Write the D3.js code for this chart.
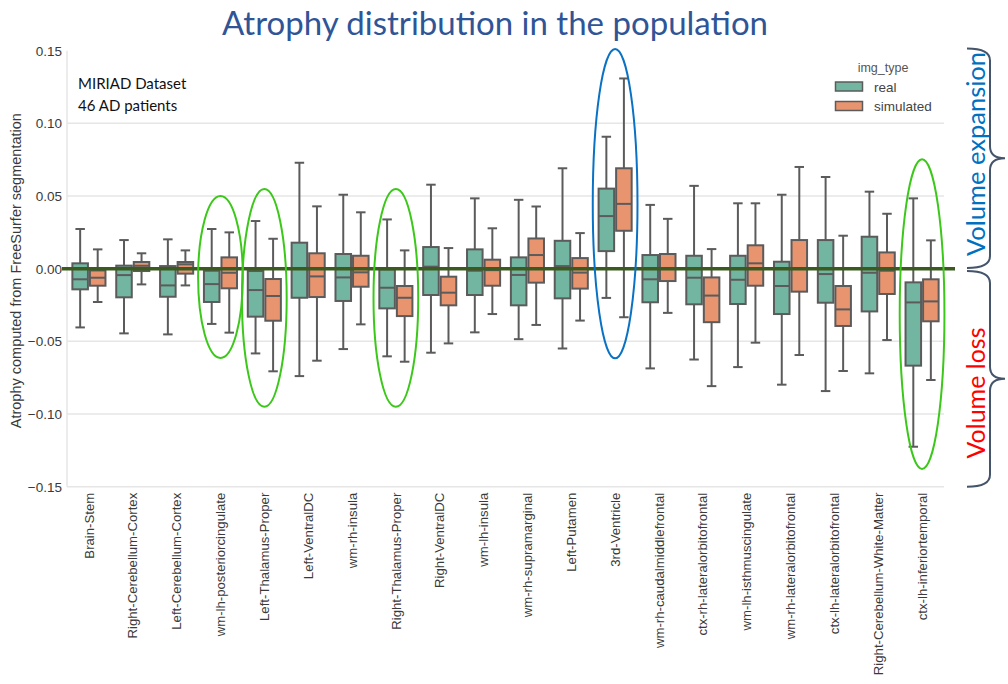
<!DOCTYPE html>
<html>
<head>
<meta charset="utf-8">
<script src="https://cdn.jsdelivr.net/npm/d3@7"></script>
<style>
  html, body { margin: 0; padding: 0; background: #fff; }
  svg { display: block; }
</style>
</head>
<body>
<svg id="chart" width="1008" height="684"></svg>
<script>
// Brain regions, in plotting order
const categories = [
  "Brain-Stem", "Right-Cerebellum-Cortex", "Left-Cerebellum-Cortex",
  "wm-lh-posteriorcingulate", "Left-Thalamus-Proper", "Left-VentralDC",
  "wm-rh-insula", "Right-Thalamus-Proper", "Right-VentralDC", "wm-lh-insula",
  "wm-rh-supramarginal", "Left-Putamen", "3rd-Ventricle",
  "wm-rh-caudalmiddlefrontal", "ctx-rh-lateralorbitofrontal",
  "wm-lh-isthmuscingulate", "wm-rh-lateralorbitofrontal",
  "ctx-lh-lateralorbitofrontal", "Right-Cerebellum-White-Matter",
  "ctx-lh-inferiortemporal"
];

const imgTypes = ["real", "simulated"];

// Box statistics for the real images: lower whisker, Q1, median, Q3, upper whisker
const realLow  = [-0.0404,-0.0445,-0.0452,-0.0380,-0.0583,-0.0739,-0.0553,-0.0603,-0.0578,-0.0438,-0.0485,-0.0549,-0.0201,-0.0686,-0.0625,-0.0677,-0.0798,-0.0842,-0.0720,-0.1225];
const realQ1   = [-0.0142,-0.0197,-0.0193,-0.0229,-0.0330,-0.0200,-0.0222,-0.0273,-0.0181,-0.0181,-0.0252,-0.0204, 0.0121,-0.0231,-0.0245,-0.0243,-0.0312,-0.0234,-0.0294,-0.0667];
const realMed  = [-0.0073,-0.0044,-0.0115,-0.0106,-0.0147, 0.0003,-0.0060,-0.0131, 0.0014,-0.0014,-0.0043, 0.0018, 0.0362,-0.0073,-0.0062,-0.0076,-0.0119,-0.0037,-0.0028,-0.0232];
const realQ3   = [ 0.0037, 0.0021, 0.0018,-0.0014,-0.0016, 0.0179, 0.0101,-0.0005, 0.0149, 0.0133, 0.0078, 0.0192, 0.0551, 0.0094, 0.0089, 0.0089, 0.0048, 0.0197, 0.0220,-0.0094];
const realHigh = [ 0.0273, 0.0197, 0.0202, 0.0273, 0.0328, 0.0729, 0.0509, 0.0339, 0.0578, 0.0484, 0.0474, 0.0691, 0.0908, 0.0439, 0.0570, 0.0450, 0.0509, 0.0631, 0.0530, 0.0484];

// Box statistics for the simulated images
const simLow  = [-0.0229,-0.0108,-0.0115,-0.0440,-0.0706,-0.0633,-0.0383,-0.0640,-0.0514,-0.0312,-0.0387,-0.0357,-0.0334,-0.0304,-0.0808,-0.0509,-0.0594,-0.0704,-0.0491,-0.0766];
const simQ1   = [-0.0117,-0.0016,-0.0034,-0.0135,-0.0358,-0.0195,-0.0124,-0.0326,-0.0252,-0.0117,-0.0096,-0.0137, 0.0261,-0.0085,-0.0368,-0.0117,-0.0158,-0.0394,-0.0174,-0.0362];
const simMed  = [-0.0062, 0.0020, 0.0030,-0.0028,-0.0188,-0.0053,-0.0025,-0.0200,-0.0165,-0.0010, 0.0094,-0.0027, 0.0446, 0.0002,-0.0185, 0.0037, 0.0002,-0.0280,-0.0014,-0.0225];
const simQ3   = [-0.0012, 0.0046, 0.0046, 0.0078,-0.0071, 0.0106, 0.0089,-0.0119,-0.0055, 0.0062, 0.0208, 0.0073, 0.0691, 0.0101,-0.0060, 0.0161, 0.0197,-0.0119, 0.0112,-0.0073];
const simHigh = [ 0.0133, 0.0106, 0.0126, 0.0250, 0.0206, 0.0429, 0.0388, 0.0126, 0.0142, 0.0278, 0.0428, 0.0245, 0.1309, 0.0343, 0.0135, 0.0450, 0.0700, 0.0227, 0.0378, 0.0195];

const yTicks = [-0.15, -0.10, -0.05, 0.00, 0.05, 0.10, 0.15];

// Highlighted regions: category, value extent of the ring, ring colour
const highlightCats   = ["wm-lh-posteriorcingulate", "Left-Thalamus-Proper", "Right-Thalamus-Proper", "3rd-Ventricle", "ctx-lh-inferiortemporal"];
const highlightTop    = [0.050, 0.0548, 0.0548, 0.1512, 0.0753];
const highlightBottom = [-0.0614, -0.0950, -0.0950, -0.0617, -0.1378];
const highlightColor  = ["#3cc81a", "#3cc81a", "#3cc81a", "#0a72c4", "#3cc81a"];

const colors = { real: "#72b6a1", simulated: "#e8956f" };
const edge = "#5b5b5b";

const svg = d3.select("#chart");
const plotLeft = 67, plotRight = 944, plotTop = 50.7, plotBottom = 486.7;

const x = d3.scaleBand().domain(categories).range([plotLeft, plotRight]).padding(0);
const y = d3.scaleLinear().domain([-0.15, 0.15]).range([plotBottom, plotTop]);
const sub = d3.scaleBand().domain(imgTypes).range([0, x.bandwidth() * 0.8]);

svg.append("rect").attr("width", 1008).attr("height", 684).attr("fill", "#fff");

// Grid
const grid = svg.append("g");
grid.selectAll("line").data(yTicks.filter(t => t < 0.149))
  .join("line")
  .attr("x1", plotLeft).attr("x2", plotRight)
  .attr("y1", d => y(d)).attr("y2", d => y(d))
  .attr("stroke", "#e6e6e6").attr("stroke-width", 1.5);
grid.append("line").attr("x1", plotLeft).attr("x2", plotLeft)
  .attr("y1", plotTop).attr("y2", plotBottom)
  .attr("stroke", "#e6e6e6").attr("stroke-width", 1.5);

// Y axis labels
const yAxis = d3.axisLeft(y).tickValues(yTicks).tickSize(0).tickPadding(5)
  .tickFormat(d => d3.format(".2f")(d).replace("-", "\u2212"));
const yg = svg.append("g").attr("transform", `translate(${plotLeft},0)`).call(yAxis);
yg.select(".domain").remove();
yg.selectAll("text").attr("font-family", "Liberation Sans, Arial, sans-serif")
  .attr("font-size", 13.5).attr("fill", "#3a3a3a");

// X axis labels
const xAxis = d3.axisBottom(x).tickSize(0).tickPadding(0);
const xg = svg.append("g").attr("transform", `translate(0,${plotBottom})`).call(xAxis);
xg.select(".domain").remove();
xg.selectAll("text")
  .attr("font-family", "Liberation Sans, Arial, sans-serif")
  .attr("font-size", 13.2).attr("fill", "#3a3a3a")
  .attr("text-anchor", "end")
  .attr("dy", "0.35em")
  .attr("transform", "translate(0,6) rotate(-90)")
  .attr("x", 0).attr("y", 0);

// Y axis title
svg.append("text")
  .attr("transform", `translate(21,${(plotTop + plotBottom) / 2 + 2}) rotate(-90)`)
  .attr("text-anchor", "middle")
  .attr("font-family", "Liberation Sans, Arial, sans-serif")
  .attr("font-size", 14.5).attr("fill", "#3a3a3a")
  .text("Atrophy computed from FreeSurfer segmentation");

// Boxes
const stats = {
  real: categories.map((c, i) => ({ c, low: realLow[i], q1: realQ1[i], med: realMed[i], q3: realQ3[i], high: realHigh[i] })),
  simulated: categories.map((c, i) => ({ c, low: simLow[i], q1: simQ1[i], med: simMed[i], q3: simQ3[i], high: simHigh[i] }))
};

const boxW = sub.bandwidth();
const capHalf = boxW * 0.27;
imgTypes.forEach(t => {
  const g = svg.append("g");
  const xc = d => x(d.c) + x.bandwidth() * 0.1 + sub(t) + boxW / 2;
  const grp = g.selectAll("g").data(stats[t]).join("g");
  grp.append("line").attr("x1", xc).attr("x2", xc)
    .attr("y1", d => y(d.high)).attr("y2", d => y(d.q3))
    .attr("stroke", edge).attr("stroke-width", 2);
  grp.append("line").attr("x1", xc).attr("x2", xc)
    .attr("y1", d => y(d.q1)).attr("y2", d => y(d.low))
    .attr("stroke", edge).attr("stroke-width", 2);
  grp.append("line").attr("x1", d => xc(d) - capHalf).attr("x2", d => xc(d) + capHalf)
    .attr("y1", d => y(d.high)).attr("y2", d => y(d.high))
    .attr("stroke", edge).attr("stroke-width", 2);
  grp.append("line").attr("x1", d => xc(d) - capHalf).attr("x2", d => xc(d) + capHalf)
    .attr("y1", d => y(d.low)).attr("y2", d => y(d.low))
    .attr("stroke", edge).attr("stroke-width", 2);
  grp.append("rect")
    .attr("x", d => xc(d) - boxW / 2 + 1).attr("width", boxW - 2)
    .attr("y", d => y(d.q3)).attr("height", d => y(d.q1) - y(d.q3))
    .attr("fill", colors[t]).attr("stroke", edge).attr("stroke-width", 2);
  grp.append("line").attr("x1", d => xc(d) - boxW / 2 + 1).attr("x2", d => xc(d) + boxW / 2 - 1)
    .attr("y1", d => y(d.med)).attr("y2", d => y(d.med))
    .attr("stroke", edge).attr("stroke-width", 2);
});

// Zero reference line
svg.append("line")
  .attr("x1", plotLeft - 5).attr("x2", plotRight + 11)
  .attr("y1", y(0)).attr("y2", y(0))
  .attr("stroke", "#3b5a20").attr("stroke-width", 3.5);

// Highlight rings
svg.append("g").selectAll("ellipse").data(highlightCats)
  .join("ellipse")
  .attr("cx", d => x(d) + x.bandwidth() / 2)
  .attr("cy", (d, i) => (y(highlightTop[i]) + y(highlightBottom[i])) / 2)
  .attr("rx", x.bandwidth() * 0.51)
  .attr("ry", (d, i) => (y(highlightBottom[i]) - y(highlightTop[i])) / 2)
  .attr("fill", "none")
  .attr("stroke", (d, i) => highlightColor[i])
  .attr("stroke-width", 2);

// Legend
const lg = svg.append("g").attr("font-family", "Liberation Sans, Arial, sans-serif");
lg.append("text").attr("x", 883).attr("y", 72).attr("text-anchor", "middle")
  .attr("font-size", 12.5).attr("fill", "#555").text("img_type");
imgTypes.forEach((t, i) => {
  lg.append("rect").attr("x", 835.5).attr("y", 82 + i * 19.5).attr("width", 27).attr("height", 9)
    .attr("fill", colors[t]).attr("stroke", edge).attr("stroke-width", 1.5);
  lg.append("text").attr("x", 874).attr("y", 91.5 + i * 19.5)
    .attr("font-size", 13.5).attr("fill", "#444").text(t);
});

// Dataset note
svg.append("text").attr("x", 78).attr("y", 88.5)
  .attr("font-family", "Lato, sans-serif").attr("font-size", 15).attr("fill", "#111")
  .text("MIRIAD Dataset");
svg.append("text").attr("x", 78).attr("y", 110.5)
  .attr("font-family", "Lato, sans-serif").attr("font-size", 15).attr("fill", "#111")
  .text("46 AD patients");

// Title
svg.append("text").attr("x", 495).attr("y", 34.5).attr("text-anchor", "middle")
  .attr("font-family", "Lato, sans-serif").attr("font-size", 33).attr("fill", "#2f5597")
  .text("Atrophy distribution in the population");

// Braces on the right: expansion above zero, loss below
function brace(y0, y1, xl, xm, xt) {
  const ym = (y0 + y1) / 2;
  const r = 6;
  return `M${xl},${y0} Q${xm},${y0} ${xm},${y0 + r * 2}` +
         ` L${xm},${ym - r * 2} Q${xm},${ym} ${xt},${ym}` +
         ` Q${xm},${ym} ${xm},${ym + r * 2}` +
         ` L${xm},${y1 - r * 2} Q${xm},${y1} ${xl},${y1}`;
}
const bx = svg.append("g").attr("fill", "none").attr("stroke", "#44546a").attr("stroke-width", 2);
bx.append("path").attr("d", brace(y(0.1515), y(0.0005), 967, 990, 1005));
bx.append("path").attr("d", brace(y(-0.0015), y(-0.15), 967, 990, 1005));

svg.append("text")
  .attr("transform", "translate(985,154) rotate(-90)")
  .attr("text-anchor", "middle")
  .attr("font-family", "Lato, sans-serif").attr("font-size", 25.5).attr("fill", "#0070c0")
  .text("Volume expansion");
svg.append("text")
  .attr("transform", "translate(985,393) rotate(-90)")
  .attr("text-anchor", "middle")
  .attr("font-family", "Lato, sans-serif").attr("font-size", 25).attr("fill", "#ff0000")
  .text("Volume loss");
</script>
</body>
</html>
